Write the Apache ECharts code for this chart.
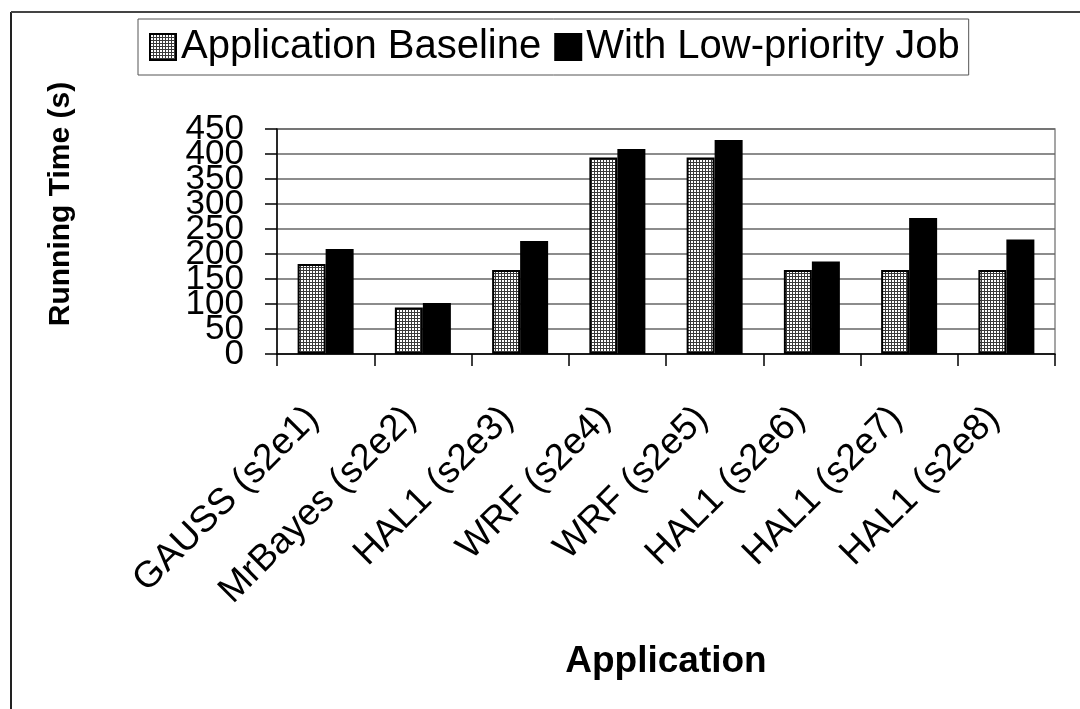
<!DOCTYPE html>
<html>
<head>
<meta charset="utf-8">
<script src="https://cdn.jsdelivr.net/npm/echarts@6/dist/echarts.min.js"></script>
<style>
html,body{margin:0;padding:0;background:#fff;}
#chart{width:1080px;height:709px;}
</style>
</head>
<body>
<div id="chart"></div>
<script>
const categories = ["GAUSS (s2e1)", "MrBayes (s2e2)", "HAL1 (s2e3)", "WRF (s2e4)", "WRF (s2e5)", "HAL1 (s2e6)", "HAL1 (s2e7)", "HAL1 (s2e8)"];
const baseline = [180, 93, 168, 393, 393, 168, 168, 168];
const lowPriority = [210, 102, 226, 410, 428, 185, 272, 229];
const seriesNames = ["Application Baseline", "With Low-priority Job"];
const yTicks = {min: 0, max: 450, interval: 50};

// fine grid pattern for the baseline bars
const pc = document.createElement('canvas');
pc.width = 3; pc.height = 3;
const pctx = pc.getContext('2d');
pctx.fillStyle = '#ffffff';
pctx.fillRect(0, 0, 3, 3);
pctx.fillStyle = '#3a3a3a';
pctx.fillRect(0, 0, 3, 1);
pctx.fillRect(0, 0, 1, 3);

const FONT = 'Arial, "Liberation Sans", sans-serif';
const labelBase = {fontSize: 35, color: '#000', margin: 33, fontFamily: FONT, showMinLabel: true, showMaxLabel: true, hideOverlap: false};
const chart = echarts.init(document.getElementById('chart'), null, {renderer: 'canvas'});
chart.setOption({
  animation: false,
  backgroundColor: '#ffffff',
  textStyle: {fontFamily: FONT, color: '#000'},
  legend: {
    left: 138, top: 19,
    padding: [8, 9, 8, 11],
    borderColor: '#555', borderWidth: 1,
    itemWidth: 26, itemHeight: 26, itemGap: 13,
    icon: 'rect',
    textStyle: {fontSize: 40, fontFamily: FONT, color: '#000'},
    data: seriesNames
  },
  grid: {left: 277, right: 25, top: 129, bottom: 355, show: true, borderColor: '#888', borderWidth: 1.5},
  xAxis: {
    type: 'category',
    data: categories,
    name: 'Application',
    nameLocation: 'middle',
    nameGap: 289,
    nameTextStyle: {fontSize: 37, fontWeight: 'bold', color: '#000', fontFamily: FONT},
    axisLine: {lineStyle: {color: '#000', width: 1.5}},
    axisTick: {show: true, length: 12, lineStyle: {color: '#000', width: 1.5}},
    axisLabel: {rotate: 45, fontSize: 37, color: '#000', margin: 46, padding: [0, 18, 0, 0], fontFamily: FONT, interval: 0}
  },
  yAxis: [
    {
      type: 'value', position: 'left',
      min: yTicks.min, max: yTicks.max, interval: yTicks.interval,
      axisLine: {show: true, lineStyle: {color: '#000', width: 1.5}},
      axisTick: {show: true, length: 12, lineStyle: {color: '#000', width: 1.5}},
      axisLabel: Object.assign({}, labelBase, {formatter: v => (Math.round(v / yTicks.interval) % 2 === 0 ? String(v) : '')}),
      splitLine: {show: true, lineStyle: {color: '#666', width: 1.5}}
    },
    {
      type: 'value', position: 'left', offset: 0,
      min: yTicks.min, max: yTicks.max, interval: yTicks.interval,
      axisLine: {show: false}, axisTick: {show: false}, splitLine: {show: false},
      axisLabel: Object.assign({}, labelBase, {formatter: v => (Math.round(v / yTicks.interval) % 2 === 1 ? String(v) : '')})
    }
  ],
  graphic: [
    {type: 'text', x: 61, y: 204, rotation: Math.PI/2,
     style: {text: 'Running Time (s)', font: 'bold 30px ' + FONT, fill: '#000', align: 'center', verticalAlign: 'middle'}, silent: true},
    {type: 'line', shape: {x1: 11, y1: 12, x2: 11, y2: 709}, style: {stroke: '#222', lineWidth: 2}},
    {type: 'line', shape: {x1: 11, y1: 12, x2: 1080, y2: 12}, style: {stroke: '#444', lineWidth: 2}}
  ],
  series: [
    {
      name: seriesNames[0], type: 'bar', data: baseline, yAxisIndex: 0,
      barWidth: 28, barGap: '0%',
      itemStyle: {color: {image: pc, repeat: 'repeat'}, borderColor: '#000', borderWidth: 2}
    },
    {
      name: seriesNames[1], type: 'bar', data: lowPriority, yAxisIndex: 0,
      barWidth: 28,
      itemStyle: {color: '#000', borderColor: '#000', borderWidth: 2}
    }
  ]
});
</script>
</body>
</html>
